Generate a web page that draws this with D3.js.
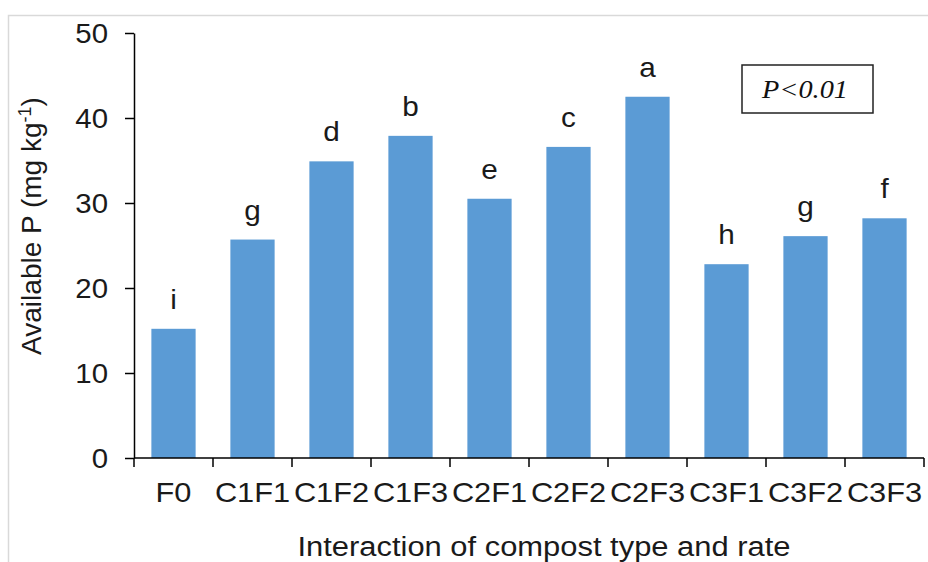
<!DOCTYPE html>
<html><head><meta charset="utf-8">
<script src="https://cdn.jsdelivr.net/npm/d3@7"></script>
<style>body{margin:0;background:#fff}svg{display:block}</style>
</head><body>
<script>
const categories = ["F0","C1F1","C1F2","C1F3","C2F1","C2F2","C2F3","C3F1","C3F2","C3F3"];
const values = [15.2, 25.7, 34.9, 37.9, 30.5, 36.6, 42.5, 22.8, 26.1, 28.2];
const letters = ["i","g","d","b","e","c","a","h","g","f"];
const yTicks = [0,10,20,30,40,50];

const W = 928, H = 562;
const svg = d3.select("body").append("svg").attr("width", W).attr("height", H);
const font = "'Liberation Sans', Arial, sans-serif";

function label(parent, x, y, txt, anchor, size, sx) {
  return parent.append("text").attr("transform", `translate(${x},${y}) scale(${sx},1)`)
    .attr("text-anchor", anchor).attr("font-family", font).attr("font-size", size)
    .attr("fill", "#1a1a1a").text(txt);
}

// chart border
svg.append("rect").attr("x", 8.5).attr("y", 15.5).attr("width", W + 10).attr("height", H + 10)
  .attr("fill", "none").attr("stroke", "#d9d9d9").attr("stroke-width", 1.5);

const x = d3.scaleBand().domain(categories).range([134, 924]).paddingInner(0.44).paddingOuter(0.22);
const y = d3.scaleLinear().domain([0, 50]).range([458, 33]);

// bars
svg.selectAll("rect.bar").data(categories).join("rect").attr("class", "bar")
  .attr("x", d => x(d)).attr("width", x.bandwidth())
  .attr("y", (d, i) => y(values[i])).attr("height", (d, i) => y(0) - y(values[i]))
  .attr("fill", "#5B9BD5");

// letters
categories.forEach((d, i) => label(svg, x(d) + x.bandwidth() / 2, y(values[i]) - 20, letters[i], "middle", 27, 1.1));

// y axis
const ya = svg.append("g").attr("transform", "translate(134,0)")
  .call(d3.axisLeft(y).tickValues(yTicks).tickSize(9).tickSizeOuter(0).tickFormat(""));
ya.select(".domain").attr("stroke", "#000").attr("stroke-width", 1.5);
ya.selectAll(".tick line").attr("stroke", "#000").attr("stroke-width", 1.5);
yTicks.forEach(t => label(svg, 108, y(t) + 10, String(t), "end", 27, 1.09));

// x axis line with boundary ticks
const g = svg.append("g");
const r = x.range();
g.append("line").attr("x1", r[0]).attr("x2", r[1]).attr("y1", y(0)).attr("y2", y(0))
  .attr("stroke", "#000").attr("stroke-width", 1.5);
const bounds = d3.range(categories.length + 1).map(i => r[0] + i * x.step());
g.selectAll("line.xt").data(bounds).join("line").attr("class", "xt")
  .attr("x1", d => d).attr("x2", d => d).attr("y1", y(0)).attr("y2", y(0) + 9)
  .attr("stroke", "#000").attr("stroke-width", 1.5);
categories.forEach(d => label(g, x(d) + x.bandwidth() / 2, 502, d, "middle", 27, 1.14));

// axis titles
label(svg, 544, 556, "Interaction of compost type and rate", "middle", 27, 1.145);
const yt = svg.append("text").attr("transform", "translate(41,226) rotate(-90)").attr("text-anchor", "middle")
  .attr("font-family", font).attr("font-size", 28).attr("fill", "#1a1a1a");
yt.append("tspan").text("Available P (mg kg");
yt.append("tspan").attr("dy", -10).attr("font-size", 18).text("-1");
yt.append("tspan").attr("dy", 10).text(")");

// P box
svg.append("rect").attr("x", 742).attr("y", 65).attr("width", 131).attr("height", 48)
  .attr("fill", "#fff").attr("stroke", "#222").attr("stroke-width", 1.5);
svg.append("text").attr("transform", `translate(805,98) scale(1.09,1)`).attr("text-anchor", "middle")
  .attr("font-family", "'Liberation Serif', 'Times New Roman', serif").attr("font-style", "italic")
  .attr("font-size", 26).attr("fill", "#111").text("P<0.01");
</script>
</body></html>
